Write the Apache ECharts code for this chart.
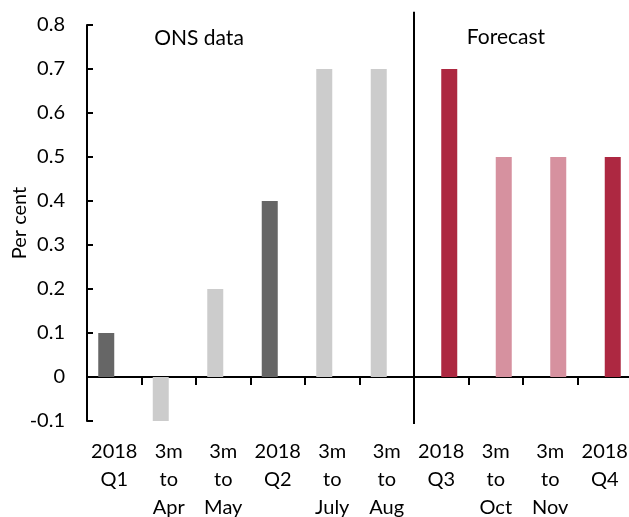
<!DOCTYPE html>
<html>
<head>
<meta charset="utf-8">
<script src="https://cdn.jsdelivr.net/npm/echarts@6/dist/echarts.min.js"></script>
<style>html,body{margin:0;padding:0;background:#fff}#c{width:629px;height:517px}</style>
</head>
<body>
<div id="c"></div>
<script>
var categories = ['2018\nQ1','3m\nto\nApr','3m\nto\nMay','2018\nQ2','3m\nto\nJuly','3m\nto\nAug','2018\nQ3','3m\nto\nOct','3m\nto\nNov','2018\nQ4'];
var onsValues = [0.1, -0.1, 0.2, 0.4, 0.7, 0.7, null, null, null, null];
var forecastValues = [null, null, null, null, null, null, 0.7, 0.5, 0.5, 0.5];
var onsColors = ['#666666','#cccccc','#cccccc','#666666','#cccccc','#cccccc'];
var forecastColors = ['#ad2841','#d6919f','#d6919f','#ad2841'];
var yTicks = [-0.1, 0, 0.1, 0.2, 0.3, 0.4, 0.5, 0.6, 0.7, 0.8];
var onsCount = 6;

var FONT = 'Lato';
var chart = echarts.init(document.getElementById('c'), null, {renderer: 'canvas'});

function mk(vals, colors, offset) {
  return vals.map(function (v, i) {
    if (v === null) return '-';
    return {value: v, itemStyle: {color: colors[i - offset]}};
  });
}

var option = {
  animation: false,
  backgroundColor: '#fff',
  grid: {left: 87, top: 25, width: 545, height: 396, containLabel: false, outerBoundsMode: 'none'},
  xAxis: [{
    type: 'category', data: categories, position: 'bottom',
    axisLine: {show: false, onZero: false}, axisTick: {show: false},
    axisLabel: {interval: 0, color: '#000', fontFamily: FONT, fontSize: 20, lineHeight: 28, margin: 17}
  }, {
    type: 'category', data: categories, position: 'bottom',
    axisLine: {show: true, onZero: true, lineStyle: {color: '#000', width: 2}},
    axisTick: {show: true, length: 8, lineStyle: {color: '#000', width: 2}},
    axisLabel: {show: false}
  }],
  yAxis: {
    type: 'value', min: yTicks[0], max: yTicks[yTicks.length - 1], interval: 0.1,
    name: 'Per cent', nameLocation: 'middle', nameGap: 57, nameRotate: 90, nameMoveOverlap: false,
    nameTextStyle: {color: '#000', fontFamily: FONT, fontSize: 20},
    axisLine: {show: true, lineStyle: {color: '#000', width: 2}},
    axisTick: {show: true, inside: true, length: 6, lineStyle: {color: '#000', width: 2}},
    splitLine: {show: false},
    axisLabel: {color: '#000', fontFamily: FONT, fontSize: 20, margin: 22,
      formatter: function (v) { return String(Math.round(v * 10) / 10); }}
  },
  series: [{
    type: 'bar', xAxisIndex: 0, barWidth: 16, barGap: '0%',
    data: mk(onsValues, onsColors, 0)
  }, {
    type: 'bar', xAxisIndex: 0, barWidth: 16, barGap: '0%',
    data: mk(forecastValues, forecastColors, onsCount)
  }]
};
chart.setOption(option);

var xa = chart.convertToPixel({xAxisIndex: 0}, onsCount - 1);
var xb = chart.convertToPixel({xAxisIndex: 0}, onsCount);
var divX = (xa + xb) / 2;
var yTop = chart.convertToPixel({yAxisIndex: 0}, 0.83);
var yBot = chart.convertToPixel({yAxisIndex: 0}, -0.107);
chart.setOption({
  graphic: [
    {type: 'line', shape: {x1: divX, y1: yTop, x2: divX, y2: yBot}, style: {stroke: '#000', lineWidth: 2}, z: 10},
    {type: 'text', x: 199, y: 38, style: {text: 'ONS data', fill: '#000', font: '21px ' + FONT, textAlign: 'center', textVerticalAlign: 'middle'}},
    {type: 'text', x: 506, y: 37, style: {text: 'Forecast', fill: '#000', font: '21px ' + FONT, textAlign: 'center', textVerticalAlign: 'middle'}}
  ]
});
</script>
</body>
</html>
